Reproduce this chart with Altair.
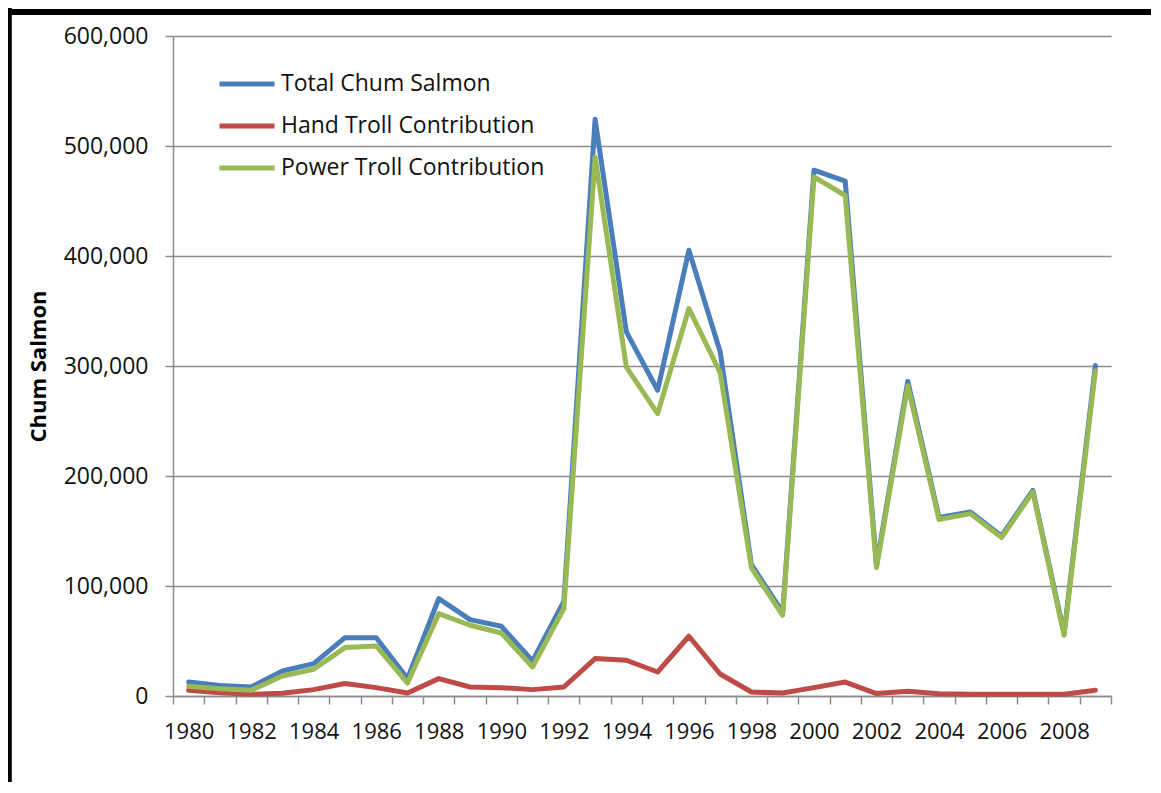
import altair as alt
import pandas as pd

years = list(range(1980, 2010))
series_names = ["Total Chum Salmon", "Hand Troll Contribution", "Power Troll Contribution"]
series_colors = ["#4A7EBB", "#BE4B48", "#98B954"]

total = [12700, 9500, 8200, 22700, 29400, 53000, 53000, 15800, 88500, 69400,
         63400, 31800, 86000, 524300, 331000, 278000, 405200, 313000, 119500, 76000,
         478000, 468000, 119000, 286000, 162400, 167300, 145500, 187000, 56700, 300500]
hand = [5200, 3000, 1500, 2500, 5800, 11300, 7600, 2700, 15800, 8200,
        7600, 5800, 8200, 34000, 32500, 21800, 54300, 20000, 3600, 2700,
        7600, 12700, 2200, 4300, 2000, 1500, 1500, 1500, 1500, 5200]
power = [8800, 6500, 5200, 18200, 24300, 44000, 45500, 11800, 74900, 64300,
         57300, 26400, 79500, 490000, 299000, 256700, 352200, 294000, 116500, 73400,
         472000, 455000, 116700, 282000, 160400, 165800, 144000, 185500, 55200, 295500]

y_ticks = [0, 100000, 200000, 300000, 400000, 500000, 600000]

rows = []
for name, vals in zip(series_names, [total, hand, power]):
    for yr, v in zip(years, vals):
        rows.append({"Year": yr, "Series": name, "Value": v})
df = pd.DataFrame(rows)

FONT = "Open Sans"

lines = alt.Chart(df).mark_line(strokeWidth=5, strokeJoin="round", strokeCap="round").encode(
    x=alt.X(
        "Year:O",
        bandPosition=0.5,
        scale=alt.Scale(type="band", paddingInner=0, paddingOuter=0),
        axis=alt.Axis(
            title=None,
            labelAngle=0,
            labelExpr="datum.value % 2 == 0 ? datum.label : ''",
            tickBand="extent",
            tickSize=8,
            tickWidth=1.5,
            tickColor="#8c8c8c",
            domainColor="#8c8c8c",
            domainWidth=1.5,
            labelPadding=17,
            labelFontSize=22,
            labelFont=FONT,
            labelColor="#111111",
            grid=False,
        ),
    ),
    y=alt.Y(
        "Value:Q",
        scale=alt.Scale(domain=[0, 600000], nice=False),
        axis=alt.Axis(
            title="Chum Salmon",
            values=y_ticks,
            format=",.0f",
            tickSize=8,
            tickWidth=1.5,
            tickColor="#8c8c8c",
            domainColor="#8c8c8c",
            domainWidth=1.5,
            gridColor="#8c8c8c",
            gridWidth=1.5,
            labelPadding=17,
            labelFontSize=23,
            labelFont=FONT,
            labelColor="#111111",
            titleFont=FONT,
            titleFontSize=22,
            titleFontWeight="bold",
            titleColor="#000000",
            titleAngle=270,
            titleX=-135,
            titleY=330,
            titleAlign="center",
            titleBaseline="middle",
        ),
    ),
    color=alt.Color(
        "Series:N",
        scale=alt.Scale(domain=series_names, range=series_colors),
        legend=alt.Legend(
            title=None,
            orient="none",
            legendX=44,
            legendY=18,
            symbolType="stroke",
            symbolSize=3025,
            symbolStrokeWidth=5,
            labelFontSize=23,
            labelFont=FONT,
            labelColor="#111111",
            labelOffset=4,
            labelLimit=500,
            rowPadding=-16,
            padding=0,
        ),
    ),
    detail="Series:N",
)

frame_left = alt.Chart(alt.Data(values=[{}])).mark_rule(color="black", strokeWidth=5).encode(
    x=alt.value(-163.7), y=alt.value(-28), y2=alt.value(800)
)
frame_top = alt.Chart(alt.Data(values=[{}])).mark_rule(color="black", strokeWidth=6).encode(
    x=alt.value(-166), x2=alt.value(1100), y=alt.value(-24)
)

chart = alt.layer(lines, frame_left, frame_top).properties(
    width=938,
    height=660,
    autosize=alt.AutoSizeParams(type="none"),
    padding={"left": 165, "top": 28, "right": 40, "bottom": 86},
    background="white",
).configure_view(strokeWidth=0)

chart.save("out.html", embed_options={"renderer": "svg", "actions": False})
